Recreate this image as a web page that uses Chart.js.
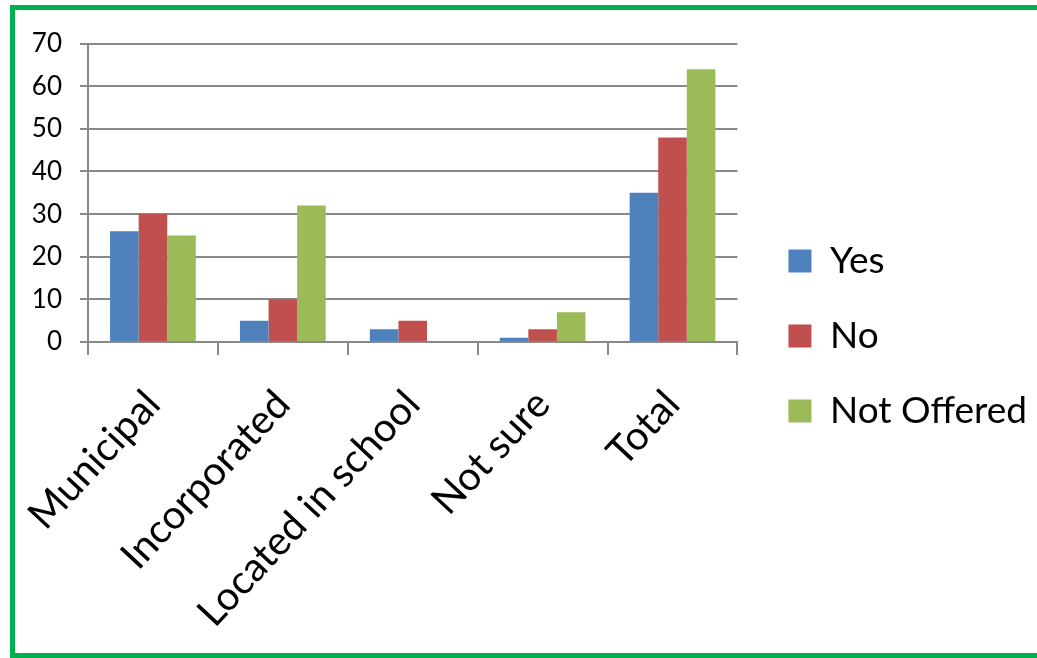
<!DOCTYPE html>
<html>
<head>
<meta charset="utf-8">
<script src="https://cdn.jsdelivr.net/npm/chart.js@4"></script>
<style>
  html, body { margin: 0; padding: 0; background: #fff; overflow: hidden; }
  #frame { position: absolute; left: 10px; top: 5px; width: 1060px; height: 643px; border: 5px solid #00B050; box-sizing: content-box; }
  #wrap { position: absolute; left: 0; top: 0; width: 1022px; height: 643px; }
</style>
</head>
<body>
<div id="frame"><div id="wrap"><canvas id="c"></canvas></div></div>
<script>
const categories = ["Municipal", "Incorporated", "Located in school", "Not sure", "Total"];
const yesValues = [26, 5, 3, 1, 35];
const noValues = [30, 10, 5, 3, 48];
const notOfferedValues = [25, 32, 0, 7, 64];
const yTicks = [0, 10, 20, 30, 40, 50, 60, 70];

const FONT = "Lato, 'Open Sans', sans-serif";
const GRID = "#898989";

new Chart(document.getElementById("c"), {
  type: "bar",
  data: {
    labels: categories,
    datasets: [
      { label: "Yes", data: yesValues, backgroundColor: "#4F81BD", borderWidth: 0 },
      { label: "No", data: noValues, backgroundColor: "#C0504D", borderWidth: 0 },
      { label: "Not Offered", data: notOfferedValues, backgroundColor: "#9BBB59", borderWidth: 0 }
    ]
  },
  options: {
    responsive: true,
    maintainAspectRatio: false,
    animation: false,
    layout: { padding: { top: 9, right: 0, left: 0, bottom: 0 } },
    datasets: { bar: { categoryPercentage: 0.66, barPercentage: 1.0 } },
    plugins: {
      tooltip: { enabled: false },
      legend: {
        position: "right",
        align: "center",
        maxWidth: 500,
        labels: {
          boxWidth: 23,
          boxHeight: 23,
          padding: 38,
          color: "#000",
          font: { family: FONT, size: 37 }
        }
      }
    },
    scales: {
      x: {
        offset: true,
        grid: { drawOnChartArea: false, drawTicks: true, tickLength: 13, color: GRID, lineWidth: 2, offset: true },
        border: { color: GRID, width: 2 },
        ticks: { color: "#000", font: { family: FONT, size: 40 }, minRotation: 47, maxRotation: 47, padding: 26, autoSkip: false },
        afterFit: (s) => { s.height = 311; s.paddingLeft = 0; s.paddingRight = 0; }
      },
      xTop: {
        type: "category",
        position: "top",
        grid: { display: false },
        border: { display: false },
        ticks: { display: false },
        afterFit: (s) => { s.height = 24; }
      },
      y: {
        min: 0, max: 70,
        afterBuildTicks: (s) => { s.ticks = yTicks.map(v => ({ value: v })); },
        grid: { color: GRID, lineWidth: 2, tickLength: 8 },
        border: { color: GRID, width: 2 },
        ticks: { color: "#000", font: { family: FONT, size: 26 }, padding: 18 },
        afterFit: (s) => { s.width = 73; }
      },
      yRight: {
        type: "linear",
        position: "right",
        grid: { display: false },
        border: { display: false },
        ticks: { display: false },
        afterFit: (s) => { s.width = 13; }
      }
    }
  }
});
</script>
</body>
</html>
